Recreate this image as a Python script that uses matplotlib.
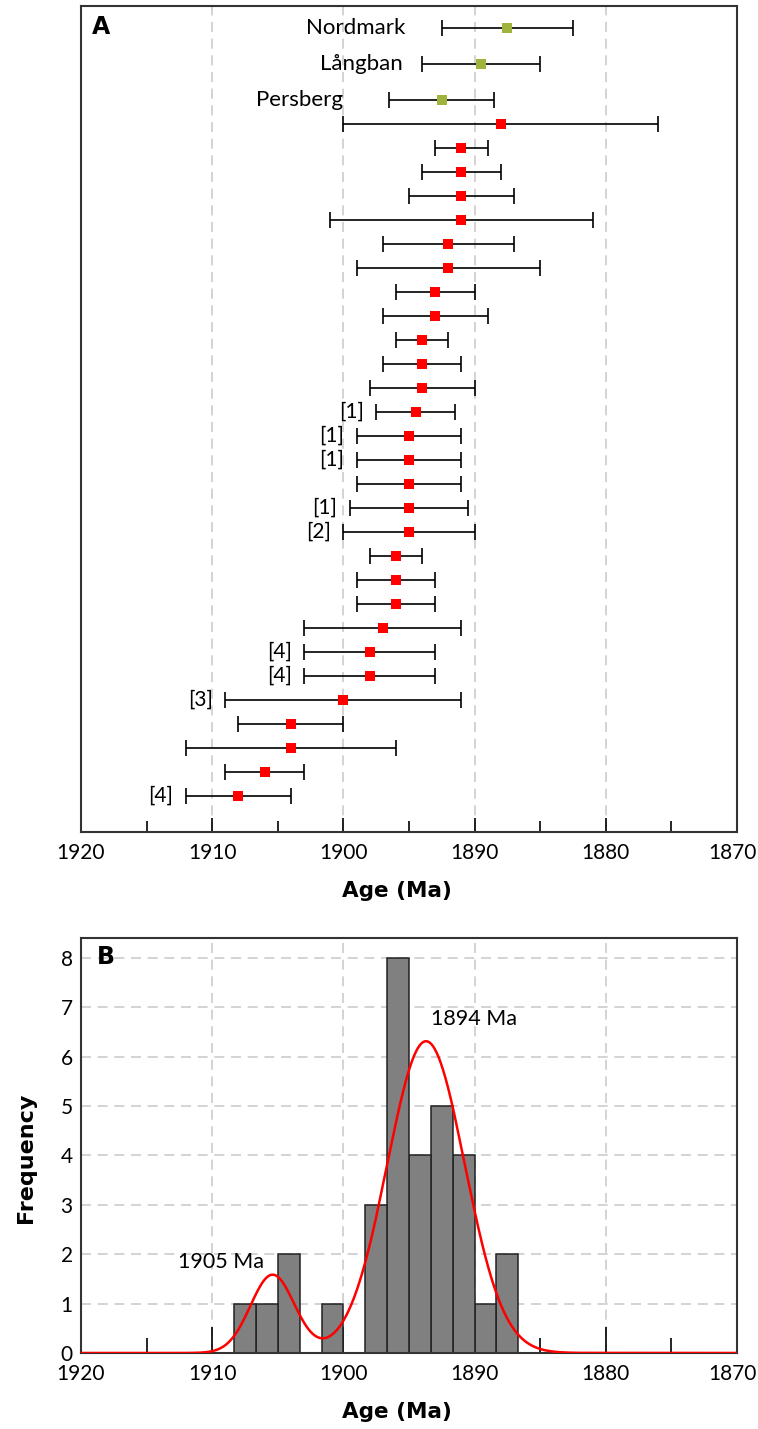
import numpy as np
import matplotlib
matplotlib.use("Agg")
import matplotlib.pyplot as plt
from matplotlib.ticker import MultipleLocator
from matplotlib.transforms import ScaledTranslation

plt.rcParams['font.family'] = ['Lato', 'DejaVu Sans']

# ---------------- data ----------------
# Panel A: named deposits (green)
deposit_names = ["Nordmark", "Långban", "Persberg"]
deposit_ages = [1887.5, 1889.5, 1892.5]
deposit_errs = [5.0, 4.5, 4.0]

# Panel A: other samples (red), top to bottom
sample_ages = [1888, 1891, 1891, 1891, 1891, 1892, 1892, 1893, 1893, 1894,
               1894, 1894, 1894.5, 1895, 1895, 1895, 1895, 1895, 1896, 1896,
               1896, 1897, 1898, 1898, 1900, 1904, 1904, 1906, 1908]
sample_errs = [12, 2, 3, 4, 10, 5, 7, 3, 4, 2,
               3, 4, 3, 4, 4, 4, 4.5, 5, 2, 3,
               3, 6, 5, 5, 9, 4, 8, 3, 4]
sample_refs = ["", "", "", "", "", "", "", "", "", "",
               "", "", "[1]", "[1]", "[1]", "", "[1]", "[2]", "", "",
               "", "", "[4]", "[4]", "[3]", "", "", "", "[4]"]

# Panel B: histogram (bins of 5/3 Ma, from 1886.67 upward)
hist_start = 1886 + 2 / 3
hist_width = 5 / 3
hist_counts = [2, 1, 4, 5, 4, 8, 3, 0, 1, 0, 2, 1, 1]

# Panel B: fitted two-component Gaussian mixture
mix_means = [1905.4, 1893.7]
mix_sigmas = [1.68, 2.95]
mix_weights = [0.125, 0.875]
mix_labels = ["1905 Ma", "1894 Ma"]

x_ticks = [1920, 1910, 1900, 1890, 1880, 1870]

# ---------------- figure ----------------
W, H = 758, 1429
fig = plt.figure(figsize=(W / 100, H / 100), dpi=100)

def frac(l, t, r, b):
    return [l / W, 1 - b / H, (r - l) / W, (b - t) / H]

axA = fig.add_axes(frac(81, 6, 737, 832))
axB = fig.add_axes(frac(81, 938, 737, 1353))

frame_color = '#333333'
grid_color = '#cccccc'
green = '#9fb33d'
red = '#ff0000'
bold_font = ['DejaVu Sans']

def nudge_last_ticklabel(ax):
    fig.canvas.draw()
    lbl = ax.get_xticklabels()[-1]
    lbl.set_transform(lbl.get_transform() +
                      ScaledTranslation(-3.5 / 72, 0, fig.dpi_scale_trans))

# ---- Panel A ----
n = len(sample_ages)
y_samples = np.arange(n, 0, -1)
y_deposits = [n + 4, n + 2.5, n + 1]

axA.errorbar(sample_ages, y_samples, xerr=sample_errs, fmt='none',
             ecolor='black', elinewidth=1.2, capsize=6, capthick=1.2, zorder=3)
axA.plot(sample_ages, y_samples, 's', color=red, markersize=7,
         markeredgewidth=0, zorder=4)
axA.errorbar(deposit_ages, y_deposits, xerr=deposit_errs, fmt='none',
             ecolor='black', elinewidth=1.2, capsize=6, capthick=1.2, zorder=3)
axA.plot(deposit_ages, y_deposits, 's', color=green, markersize=7,
         markeredgewidth=0, zorder=4)

for age, err, y, ref in zip(sample_ages, sample_errs, y_samples, sample_refs):
    if ref:
        axA.annotate(ref, xy=(age + err, y), xytext=(-9, 0),
                     textcoords='offset points', ha='right', va='center',
                     fontsize=15)

deposit_label_x = [1895.3, 1895.5, 1900.0]
for name, y, lx in zip(deposit_names, y_deposits, deposit_label_x):
    axA.text(lx, y, name, ha='right', va='center', fontsize=16)

axA.set_xlim(1920, 1870)
axA.set_ylim(-0.5, n + 4.9)
axA.set_yticks([])
axA.xaxis.set_minor_locator(MultipleLocator(5))
axA.set_xticks(x_ticks)
axA.set_xticklabels([str(t) for t in x_ticks])
axA.tick_params(axis='x', which='major', direction='in', length=10, width=1.2,
                pad=8, labelsize=15, colors='black')
axA.tick_params(axis='x', which='minor', direction='in', length=8, width=1.2)
axA.grid(axis='x', which='major', linestyle=(0, (6, 4)), color=grid_color,
         linewidth=1.2, zorder=0)
axA.set_xlabel("Age (Ma)", fontsize=15.5, fontweight='bold', labelpad=13,
               family=bold_font)
axA.xaxis.label.set_x(0.481)
axA.text(0.016, 0.975, "A", transform=axA.transAxes, fontsize=17,
         fontweight='bold', ha='left', va='center', family=bold_font)
for s in axA.spines.values():
    s.set_color(frame_color)
    s.set_linewidth(1.5)

# ---- Panel B ----
left_edges = hist_start + hist_width * np.arange(len(hist_counts))
axB.bar(left_edges, hist_counts, width=hist_width, align='edge',
        color='#808080', edgecolor='#222222', linewidth=1.1, zorder=2)

N = sum(hist_counts)
xs = np.linspace(1870, 1920, 1000)
curve = np.zeros_like(xs)
for m, s, w in zip(mix_means, mix_sigmas, mix_weights):
    curve += w * np.exp(-0.5 * ((xs - m) / s) ** 2) / (s * np.sqrt(2 * np.pi))
curve *= N * hist_width
axB.plot(xs, curve, color=red, linewidth=1.8, zorder=3)

label_pos = [(1912.6, 1.85), (1893.3, 6.77)]
for lab, (lx, ly) in zip(mix_labels, label_pos):
    axB.text(lx, ly, lab, ha='left', va='center', fontsize=15.5)

axB.set_xlim(1920, 1870)
axB.set_ylim(0, 8.4)
axB.set_xticks(x_ticks)
axB.set_xticklabels([str(t) for t in x_ticks])
axB.xaxis.set_minor_locator(MultipleLocator(5))
axB.set_yticks(range(0, 9))
axB.tick_params(axis='x', which='major', direction='in', length=19, width=1.2,
                pad=8, labelsize=15)
axB.tick_params(axis='x', which='minor', direction='in', length=11, width=1.2)
axB.tick_params(axis='y', which='major', length=0, pad=6, labelsize=15)
axB.grid(True, which='major', linestyle=(0, (6, 4)), color=grid_color,
         linewidth=1.2, zorder=0)
axB.set_axisbelow(True)
axB.set_xlabel("Age (Ma)", fontsize=15.5, fontweight='bold', labelpad=13,
               family=bold_font)
axB.xaxis.label.set_x(0.481)
axB.set_ylabel("Frequency", fontsize=16, fontweight='bold', labelpad=18,
               family=bold_font)
axB.yaxis.label.set_y(0.471)
axB.text(0.024, 0.955, "B", transform=axB.transAxes, fontsize=17,
         fontweight='bold', ha='left', va='center', family=bold_font)
for s in axB.spines.values():
    s.set_color(frame_color)
    s.set_linewidth(1.5)

nudge_last_ticklabel(axA)
nudge_last_ticklabel(axB)

fig.savefig("out.png", dpi=100)
